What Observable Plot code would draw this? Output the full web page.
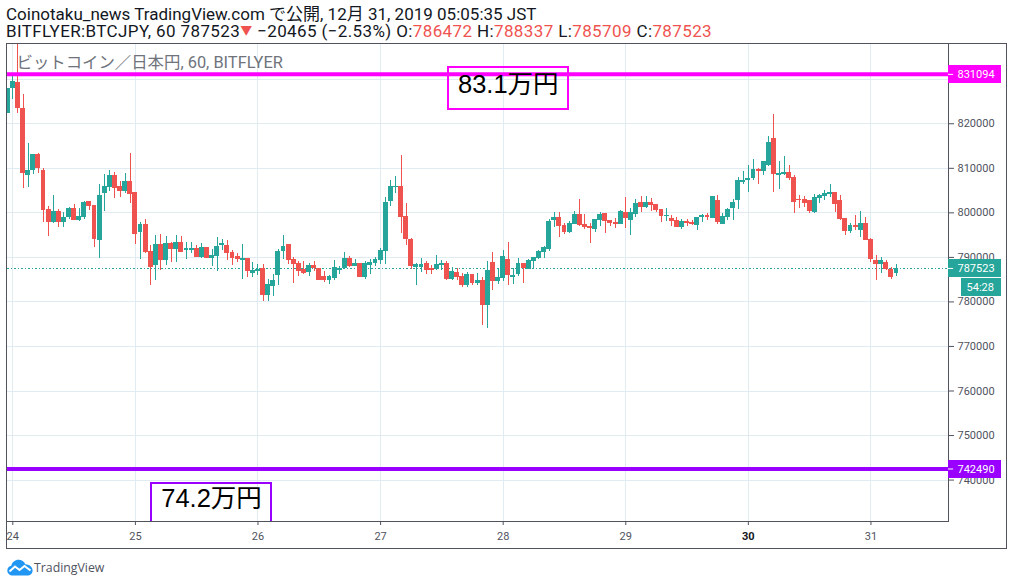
<!DOCTYPE html>
<html lang="ja">
<head>
<meta charset="utf-8">
<script src="https://cdn.jsdelivr.net/npm/d3@7"></script>
<script src="https://cdn.jsdelivr.net/npm/@observablehq/plot@0.6"></script>
<style>
html,body{margin:0;padding:0;background:#fff;width:1014px;height:586px;overflow:hidden}
body{font-family:Roboto,"Noto Sans CJK JP",sans-serif;color:#131722}
.hd{position:absolute;left:6px;white-space:nowrap;font-size:17px;line-height:17px;height:17px;overflow:visible}
.hd b{font-weight:400;color:#ef5350}
#border{position:absolute;left:6px;top:43px;width:999px;height:504px;border:1px solid #50535e;box-sizing:content-box}
#chart{position:absolute;left:7px;top:44px}
#chart svg{overflow:visible;display:block}
#logo{position:absolute;left:7px;top:559px;display:flex;align-items:center;font:12.3px "Open Sans",sans-serif;color:#50535e}
</style>
</head>
<body>
<div class="hd" style="top:6px">Coinotaku_news TradingView.com で公開, 12月 31, 2019 05:05:35 JST</div>
<div class="hd" style="top:23px;letter-spacing:.38px">BITFLYER:BTCJPY, 60 787523<b style="font-size:12px;line-height:12px;vertical-align:2px">▼</b> −20465 (−2.53%) O:<b>786472</b> H:<b>788337</b> L:<b>785709</b> C:<b>787523</b></div>
<div id="border"></div>
<div id="chart"></div>
<div id="logo"><svg width="26" height="17" viewBox="0 0 26 17" style="margin-right:1px"><path d="M6 16.5C2.6 16.5 0.3 14.2 0.3 11.4C0.3 8.9 2.1 7.2 4.3 6.8C5 3.3 8 0.8 11.6 0.8C14.6 0.8 17.2 2.6 18.3 5.2C22.3 5.2 25.6 8 25.6 11.5C25.6 14.5 23.2 16.5 20.3 16.5Z" fill="#2196f3"/><path d="M2.5 12.5L8 7.5L12.5 11L17.5 7L23.5 11.5" fill="none" stroke="#fff" stroke-width="2"/></svg>TradingView</div>
<script>
// Hourly candles of BTC/JPY (thousand yen), first candle starts one hour before Dec 24 00:00
const firstHour = -1;
const opens = [822.4,827.9,829.2,823.4,808.4,809.6,813.1,809.5,800.7,797.9,800.3,797.8,798.9,801.0,798.3,798.9,802.5,801.6,793.8,804.3,805.7,808.4,805.9,804.8,807.0,804.6,795.6,797.4,791.3,788.2,792.9,789.3,793.1,791.7,793.3,791.5,791.5,792.0,790.0,792.2,789.7,790.2,792.6,792.6,791.1,790.2,789.3,789.7,786.4,786.8,787.4,781.4,783.4,785.9,791.3,792.9,789.5,788.6,787.3,786.6,788.2,787.4,785.7,784.8,785.2,787.0,787.4,789.7,787.9,788.6,785.5,788.2,788.6,789.3,791.3,802.5,805.7,805.9,799.2,794.0,787.7,787.7,788.6,787.5,787.3,788.2,788.6,785.0,786.6,785.7,783.7,786.1,784.1,784.8,779.2,788.8,784.6,785.2,789.5,785.5,786.1,788.6,787.3,789.0,789.7,791.1,791.7,798.3,798.9,797.1,795.6,797.4,799.6,797.4,796.9,796.2,798.3,799.8,798.3,797.8,797.4,800.1,798.3,799.6,802.3,801.2,802.3,801.9,800.7,799.2,798.7,798.3,796.7,798.0,797.8,797.1,798.9,799.4,798.7,802.8,797.4,798.9,801.0,802.8,806.8,807.3,807.7,809.7,809.3,810.6,816.7,808.4,808.6,809.0,807.9,803.0,803.0,802.8,800.1,803.2,803.7,804.1,804.6,802.8,798.7,795.8,797.1,796.0,797.6,794.0,789.3,788.4,788.8,787.3,786.472];
const highs = [827.9,830.6,838,826.6,815.5,813.1,813.3,810.0,801.4,803.9,800.7,800.0,801.2,801.9,800.9,802.5,802.5,801.6,806.4,808.6,809.5,809.0,807.0,808.8,813.3,804.6,797.8,798.5,792.6,794.9,795.1,794.7,793.4,794.9,794.7,793.3,793.3,792.6,793.1,792.2,791.7,794.4,794.0,793.8,791.5,790.8,792.9,789.7,788.8,788.4,788.4,785.0,786.1,791.7,794.9,792.9,790.0,789.0,789.0,788.6,789.0,787.4,786.8,785.9,789.3,787.9,791.1,790.2,789.5,788.6,789.0,789.5,790.0,792.0,803.4,807.3,808.2,812.9,802.1,794.2,788.6,789.7,789.0,788.2,790.4,789.3,789.0,787.7,787.5,786.4,786.6,786.1,786.4,785.5,789.0,791.1,787.5,791.5,793.3,787.5,789.7,788.6,789.5,790.0,791.5,792.4,798.5,800.1,800.1,797.6,798.0,800.3,803.0,799.6,797.6,798.5,800.1,799.8,798.3,798.7,800.5,803.4,801.0,803.0,803.6,803.6,803.2,801.9,800.7,801.0,799.4,798.9,798.5,798.5,798.3,798.9,799.6,799.8,803.6,803.9,799.8,801.0,803.0,807.9,809.3,810.6,812.0,810.0,811.5,817.1,822.1,811.5,812.6,810.6,808.4,803.9,803.7,802.8,804.1,804.1,805.0,806.4,804.6,803.9,798.7,797.6,799.4,800.3,798.9,794.2,790.4,790.0,789.3,787.7,788.337];
const lows = [822.4,825.5,822.4,805.5,805.8,808.7,808.9,797.9,794.7,797.7,796.8,796.7,798.6,798.3,798.0,798.6,800.5,792.2,789.8,800.3,804.9,803.2,803.4,804.3,802.1,792.9,789.5,790.9,783.7,784.9,787.0,788.2,788.9,788.9,791.1,789.5,790.8,790.0,789.7,789.7,787.9,786.8,791.5,789.3,788.2,788.8,785.0,785.5,785.5,785.9,780.1,780.1,781.2,783.7,789.5,788.4,784.1,785.7,786.1,785.7,786.8,784.8,784.3,783.9,784.8,786.1,787.3,787.8,787.9,785.5,785.0,786.1,787.9,788.4,788.4,801.4,804.3,795.3,792.6,787.3,783.7,786.6,786.1,786.1,787.0,787.0,784.8,784.8,784.8,783.2,783.2,783.7,783.7,774.7,774.0,782.5,783.9,784.6,783.7,783.9,785.7,784.1,787.3,787.3,789.5,789.7,791.3,796.7,794.4,795.1,795.3,797.4,796.9,796.2,793.1,795.6,796.9,795.3,796.9,796.5,797.4,796.5,794.9,798.9,800.1,801.0,800.3,800.1,797.8,798.0,796.9,796.7,796.2,796.9,797.1,796.0,797.8,798.3,798.7,797.4,797.4,798.3,798.3,800.7,806.4,804.6,807.3,806.4,808.4,810.4,804.6,805.2,808.4,807.3,799.8,801.0,801.2,799.8,799.8,802.1,802.8,803.4,800.1,798.3,794.9,795.3,796.0,794.4,793.8,788.8,784.8,786.4,787.0,785.0,785.709];
const closes = [827.9,829.5,823.5,808.9,809.5,813.1,810.0,800.6,797.9,800.3,797.9,798.9,801.0,798.3,799.2,802.3,801.5,794.0,803.9,805.9,808.4,805.5,804.8,807.0,804.1,795.2,797.4,791.1,787.8,792.9,789.3,793.1,791.7,793.3,791.1,792.0,792.0,790.0,792.2,789.7,790.4,792.4,793.1,790.9,789.7,789.5,789.7,786.8,787.0,787.3,781.4,783.9,784.8,791.3,792.4,789.3,788.4,786.8,786.4,788.2,787.4,784.8,784.8,785.7,787.7,787.4,789.7,787.9,788.6,785.5,788.6,788.8,789.5,791.5,802.3,805.9,805.9,798.9,794.0,787.9,788.4,788.4,787.0,787.0,788.4,788.6,785.0,786.8,785.5,783.7,786.1,784.1,784.8,779.2,787.0,784.6,785.5,790.2,785.9,785.9,788.6,787.5,789.3,790.0,791.3,792.2,798.0,798.9,796.9,795.6,797.6,799.6,797.1,796.7,796.5,798.5,799.6,798.0,797.6,797.4,800.3,798.7,800.1,802.1,801.2,802.3,801.6,800.5,799.2,799.4,798.0,796.7,798.0,797.6,797.4,798.9,799.4,798.9,803.6,797.8,799.2,800.7,802.3,807.3,807.3,807.7,809.7,809.3,811.5,815.8,808.6,808.8,809.0,807.7,802.3,802.8,802.1,800.3,803.4,803.9,804.3,804.6,801.9,798.5,795.8,797.1,796.7,797.6,793.8,789.5,788.4,789.3,787.3,785.4,787.523];

const dayTicks = [24,25,26,27,28,29,31];
const boldDay = [30];
const priceTicks = [830000,820000,810000,800000,790000,780000,770000,760000,750000,740000,730000];
const gridPrices = priceTicks;
const lastPrice = 787523;
const upperLevel = 831094, lowerLevel = 742490;
const priceTags = [
  {price: upperLevel, label: "831094", fill: "#ff00ff"},
  {price: lowerLevel, label: "742490", fill: "#9900ff"},
  {price: lastPrice, label: "787523", fill: "#26a69a"}
];
const notes = [
  {label:"83.1万円", hour:97.0, price:828800, h1:85.3, h2:108.8, p1:832600, p2:823300, stroke:"#ff00ff"},
  {label:"74.2万円", hour:38.9, price:735900, h1:27.15, h2:50.65, p1:739150, p2:725000, stroke:"#9900ff"}
];
const up = "#26a69a", down = "#ef5350", gridColor = "#e1ecf2", axisColor = "#50535e";

const t = h => new Date(Date.UTC(2019, 11, 24) + h * 3600e3);
const candles = opens.map((o, i) => ({
  date: t(firstHour + i), open: o * 1000, high: highs[i] * 1000, low: lows[i] * 1000, close: closes[i] * 1000,
  color: closes[i] >= o ? up : down
}));
const xStart = t(-1.04), xEnd = t(183.18);
const tagEnd = t(183.18 + 10.38), tagTick = t(183.18 + 1);
const dayDate = d => new Date(Date.UTC(2019, 11, d));
const halfBar = 0.48;

const chart = Plot.plot({
  width: 1000, height: 505,
  marginLeft: 0, marginRight: 59, marginTop: 0, marginBottom: 28,
  style: {background: "transparent", fontFamily: 'Roboto,"Noto Sans CJK JP",sans-serif', fontSize: "11px", color: "#50535e", overflow: "visible"},
  x: {type: "utc", domain: [xStart, xEnd], label: null},
  y: {domain: [730700, 837800], label: null},
  color: {type: "identity"},
  marks: [
    Plot.gridX([...dayTicks, ...boldDay].map(dayDate), {stroke: gridColor, strokeOpacity: 1, shapeRendering: "crispEdges"}),
    Plot.gridY(gridPrices, {stroke: gridColor, strokeOpacity: 1, clip: true, shapeRendering: "crispEdges"}),
    Plot.text(["ビットコイン／日本円, 60, BITFLYER"], {frameAnchor: "top-left", dx: 9, dy: 18, lineAnchor: "middle", textAnchor: "start", fontSize: 16.4, fill: "#6f737c"}),
    Plot.ruleY([lastPrice], {stroke: up, strokeDasharray: "1.5 2", shapeRendering: "crispEdges"}),
    Plot.ruleX(candles, {x: "date", y1: "low", y2: "high", stroke: "color", strokeWidth: 1, clip: true, shapeRendering: "crispEdges"}),
    Plot.rect(candles, {x1: d => t(firstHour + candles.indexOf(d) - halfBar), x2: d => t(firstHour + candles.indexOf(d) + halfBar), y1: "open", y2: "close", fill: "color", clip: true, shapeRendering: "crispEdges"}),
    Plot.ruleY([upperLevel], {stroke: "#ff00ff", strokeWidth: 4}),
    Plot.ruleY([lowerLevel], {stroke: "#9900ff", strokeWidth: 4}),
    Plot.rect(notes, {x1: d => t(d.h1), x2: d => t(d.h2), y1: "p1", y2: "p2", stroke: "stroke", strokeWidth: 2, fill: "none", clip: true, shapeRendering: "crispEdges"}),
    Plot.text(notes, {x: d => t(d.hour), y: "price", text: "label", fontSize: 25.5, fill: "#000", fontFamily: '"Liberation Sans","Noto Sans CJK JP",sans-serif'}),
    Plot.frame({anchor: "right", stroke: axisColor}),
    Plot.frame({anchor: "bottom", stroke: axisColor}),
    Plot.axisY(priceTicks.slice(0, -1), {anchor: "right", tickSize: 5, tickPadding: 4, tickFormat: d => String(d), stroke: axisColor, fill: axisColor, label: null}),
    Plot.axisX(dayTicks.map(dayDate), {tickSize: 4, tickPadding: 7, tickFormat: d => String(d.getUTCDate()), stroke: axisColor, fill: axisColor, label: null}),
    Plot.axisX(boldDay.map(dayDate), {tickSize: 4, tickPadding: 7, tickFormat: d => String(d.getUTCDate()), stroke: axisColor, fill: "#131722", fontWeight: "bold", label: null}),
    Plot.ruleY(priceTags, {y: "price", x1: () => xEnd, x2: () => tagEnd, stroke: "fill", strokeWidth: 18, shapeRendering: "crispEdges"}),
    Plot.ruleY(priceTags, {y: "price", x1: () => xEnd, x2: () => tagTick, stroke: "#fff", strokeWidth: 1}),
    Plot.text(priceTags, {x: () => xEnd, y: "price", text: "label", dx: 9, textAnchor: "start", fill: "#fff"}),
    Plot.ruleY([lastPrice], {x1: () => t(183.18 + 2.55), x2: () => tagEnd, dy: 19, stroke: up, strokeWidth: 18, shapeRendering: "crispEdges"}),
    Plot.text(["54:28"], {x: () => t(183.18 + 2.55), y: () => lastPrice, dy: 19, dx: 5, textAnchor: "start", fill: "#fff"})
  ]
});
document.getElementById("chart").appendChild(chart);
</script>
</body>
</html>
